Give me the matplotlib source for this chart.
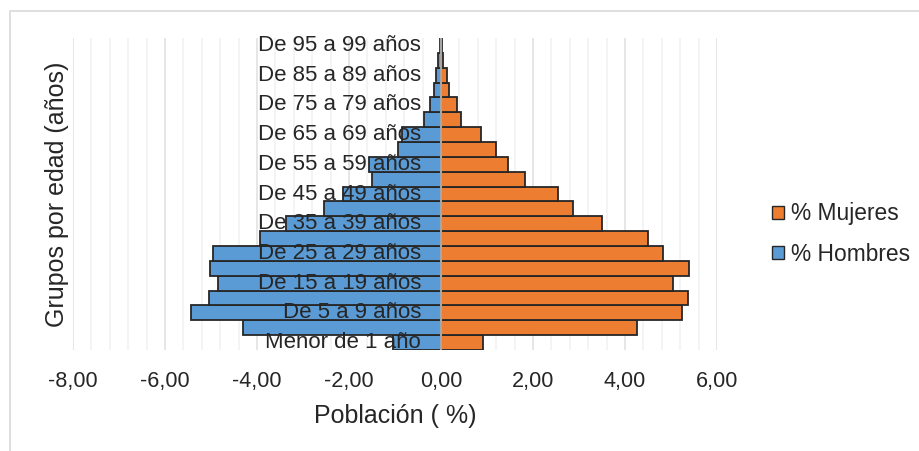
import matplotlib
matplotlib.use("Agg")
import matplotlib.pyplot as plt
import matplotlib.transforms as mtransforms
from matplotlib.patches import Patch, Rectangle
import numpy as np

plt.rcParams['font.family'] = ['Liberation Sans', 'DejaVu Sans']

grupos = ["Menor de 1 año", "De 1 a 4 años", "De 5 a 9 años", "De 10 a 14 años",
          "De 15 a 19 años", "De 20 a 24 años", "De 25 a 29 años", "De 30 a 34 años",
          "De 35 a 39 años", "De 40 a 44 años", "De 45 a 49 años", "De 50 a 54 años",
          "De 55 a 59 años", "De 60 a 64 años", "De 65 a 69 años", "De 70 a 74 años",
          "De 75 a 79 años", "De 80 a 84 años", "De 85 a 89 años", "De 90 a 94 años",
          "De 95 a 99 años"]
hombres = [-1.04, -4.31, -5.43, -5.04, -4.85, -5.02, -4.96, -3.93, -3.37, -2.55,
           -2.12, -1.51, -1.56, -0.93, -0.85, -0.37, -0.24, -0.15, -0.10, -0.06, -0.02]
mujeres = [0.91, 4.26, 5.25, 5.37, 5.05, 5.39, 4.83, 4.50, 3.49, 2.86,
           2.54, 1.83, 1.45, 1.19, 0.86, 0.44, 0.34, 0.18, 0.12, 0.05, 0.02]
xticks = [-8, -6, -4, -2, 0, 2, 4, 6]

azul = '#5B9BD5'
naranja = '#ED7D31'
borde = '#262626'
texto = '#262626'

fig = plt.figure(figsize=(9.19, 4.51), dpi=100)
ax = fig.add_axes([73 / 919, (451 - 350) / 451, (717 - 73) / 919, 312 / 451])

y = np.arange(len(grupos))
ax.barh(y, hombres, height=1.0, color=azul, edgecolor=borde, linewidth=1.3, zorder=2)
ax.barh(y, mujeres, height=1.0, color=naranja, edgecolor=borde, linewidth=1.3, zorder=2)
ax.axvline(0, color='#a6a6a6', lw=1.5, zorder=3)

ax.set_xlim(-8, 6)
ax.set_ylim(-0.5, len(grupos) - 0.5)
ax.set_xticks(xticks)
ax.set_xticklabels(['{:.2f}'.format(v).replace('.', ',') for v in xticks])
ax.set_xticks(np.arange(-8, 6.01, 0.4), minor=True)
ax.grid(axis='x', which='major', color='#e2e2e2', lw=1.2, zorder=0)
ax.grid(axis='x', which='minor', color='#f2f2f2', lw=1.2, zorder=0)
ax.set_axisbelow(True)
ax.tick_params(axis='x', which='both', length=0, labelsize=15.6, colors=texto, pad=15)
ax.set_yticks([])
for s in ax.spines.values():
    s.set_visible(False)

off = mtransforms.offset_copy(ax.transData, fig=fig, x=-20, y=0, units='dots')
for i in range(0, len(grupos), 2):
    ax.text(0, i, grupos[i], transform=off, ha='right', va='center',
            fontsize=16, color=texto, zorder=5)

ax.set_xlabel('Población ( %)', fontsize=18, color=texto, labelpad=9)
fig.text(57 / 919, 1 - 194 / 451, 'Grupos por edad (años)', rotation=90,
         ha='center', va='center', fontsize=18, color=texto)

handles = [Patch(facecolor=naranja, edgecolor=borde, label='% Mujeres'),
           Patch(facecolor=azul, edgecolor=borde, label='% Hombres')]
fig.legend(handles=handles, loc='center left', bbox_to_anchor=(751 / 919, 1 - 234 / 451),
           frameon=False, fontsize=16.4, handlelength=0.55, handleheight=0.55,
           handletextpad=0.3, labelspacing=0.75, labelcolor=texto)

fig.patches.append(Rectangle((10 / 919, -0.05), 1.0, 1 - 11 / 451 + 0.05,
                             transform=fig.transFigure, fill=False,
                             edgecolor='#d9d9d9', lw=1.2))

fig.savefig('out.png', dpi=100)
